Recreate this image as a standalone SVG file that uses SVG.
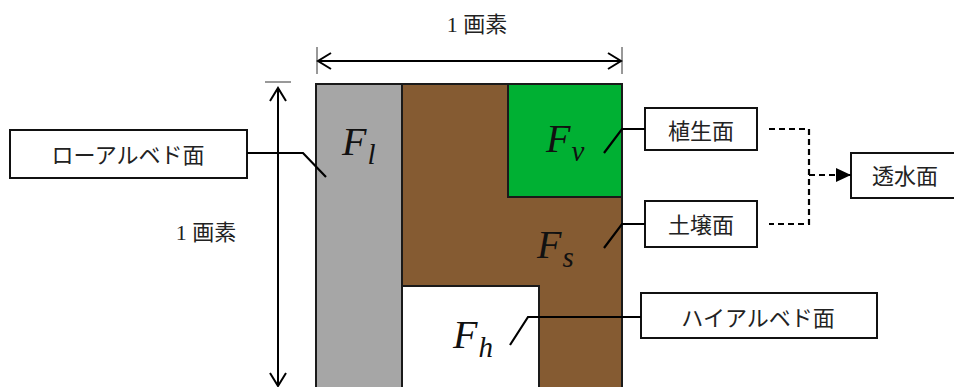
<svg xmlns="http://www.w3.org/2000/svg" width="954" height="387" viewBox="0 0 954 387">
  <style>
    .jp { font-family: "Liberation Serif", "Noto Sans CJK JP", serif; font-size: 22px; fill: #222; }
    .box { fill: #fff; stroke: #111; stroke-width: 2; }
    .lead { fill: none; stroke: #000; stroke-width: 2.2; }
    .dim { fill: none; stroke: #000; stroke-width: 2; }
    .dash { fill: none; stroke: #000; stroke-width: 2.2; stroke-dasharray: 6 4; }
    .cell { stroke: #1a1a1a; stroke-width: 2; }
    .var { font-family: "Liberation Serif", "DejaVu Serif", serif; font-style: italic; fill: #111; font-size: 40px; }
    .sub { font-size: 29px; }
  </style>
  <defs>
    <marker id="solid" viewBox="0 0 10 10" refX="10" refY="5" markerWidth="15" markerHeight="14" markerUnits="userSpaceOnUse" orient="auto" preserveAspectRatio="none">
      <path d="M0 0 L10 5 L0 10 Z" fill="#000"/>
    </marker>
  </defs>

  <!-- pixel cell split into surface fractions -->
  <g id="pixel">
    <rect x="316" y="84" width="306" height="320" fill="#855B32" class="cell"/>
    <rect x="316" y="84" width="86" height="320" fill="#A6A6A6" class="cell"/>
    <rect x="508" y="84" width="114" height="113" fill="#00B033" class="cell"/>
    <rect x="402" y="286" width="137" height="120" fill="#fff" class="cell"/>
    <text class="var" x="342" y="155">F<tspan class="sub" dx="1" dy="9">l</tspan></text>
    <text class="var" x="546" y="152">F<tspan class="sub" dx="1" dy="9">v</tspan></text>
    <text class="var" x="537" y="258">F<tspan class="sub" dx="1" dy="9">s</tspan></text>
    <text class="var" x="453" y="348">F<tspan class="sub" dx="1" dy="9">h</tspan></text>
  </g>

  <!-- dimension arrows -->
  <g id="dims">
    <line x1="317" y1="47" x2="317" y2="74" stroke="#333" stroke-width="1"/>
    <line x1="622" y1="47" x2="622" y2="74" stroke="#333" stroke-width="1"/>
    <path class="dim" d="M318 61 H621 M331 53 L318 61 L331 69 M608 53 L621 61 L608 69"/>
    <line x1="265" y1="82" x2="291" y2="82" stroke="#555" stroke-width="1.2"/>
    <path class="dim" d="M278 88 V386 M270 101 L278 88 L286 101 M270 373 L278 386 L286 373"/>
    <text class="jp" x="477" y="32" text-anchor="middle">1 画素</text>
    <text class="jp" x="206" y="240" text-anchor="middle">1 画素</text>
  </g>

  <g id="low-albedo">
    <rect class="box" x="10" y="130" width="237" height="48"/>
    <text class="jp" x="128" y="155" text-anchor="middle" dominant-baseline="central">ローアルベド面</text>
  </g>
  <g id="vegetation">
    <rect class="box" x="645" y="108" width="112" height="42"/>
    <text class="jp" x="701" y="131" text-anchor="middle" dominant-baseline="central">植生面</text>
  </g>
  <g id="soil">
    <rect class="box" x="645" y="201" width="112" height="46"/>
    <text class="jp" x="701" y="225" text-anchor="middle" dominant-baseline="central">土壌面</text>
  </g>
  <g id="permeable">
    <rect class="box" x="851" y="153" width="112" height="45"/>
    <text class="jp" x="905" y="176" text-anchor="middle" dominant-baseline="central">透水面</text>
  </g>
  <g id="high-albedo">
    <rect class="box" x="641" y="293" width="236" height="45"/>
    <text class="jp" x="758" y="318" text-anchor="middle" dominant-baseline="central">ハイアルベド面</text>
  </g>

  <g id="connectors">
    <polyline class="lead" points="247,153 303,153 326,177"/>
    <polyline class="lead" points="604,153 622,129 645,129"/>
    <polyline class="lead" points="604,248 622,224 645,224"/>
    <polyline class="lead" points="510,345 528,317 641,317"/>
    <polyline class="dash" points="769,129 809,129 809,224 769,224"/>
    <line class="dash" x1="809" y1="175" x2="851" y2="175" marker-end="url(#solid)"/>
  </g>
</svg>
